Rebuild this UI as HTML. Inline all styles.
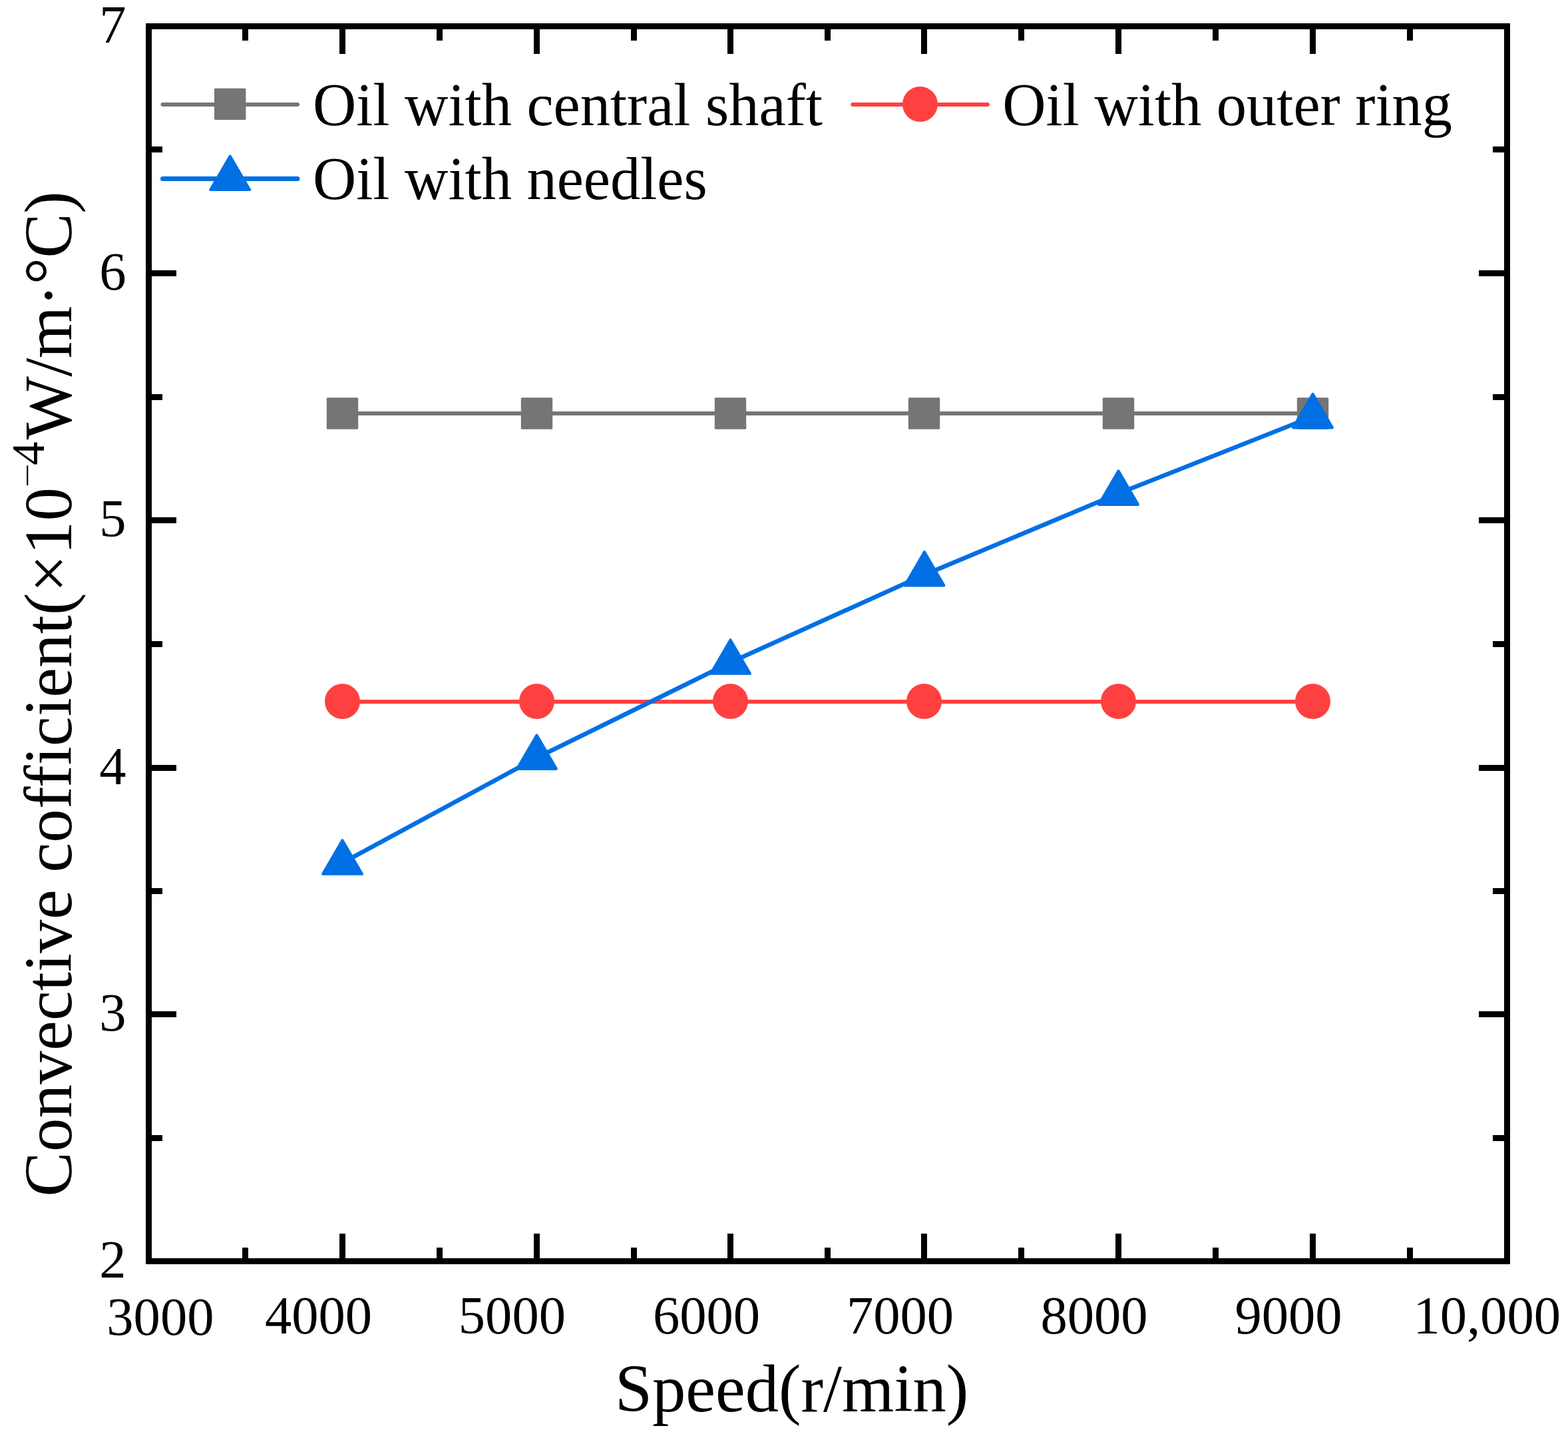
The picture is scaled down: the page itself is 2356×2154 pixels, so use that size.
<!DOCTYPE html>
<html lang="en">
<head>
<meta charset="utf-8">
<title>Convective coefficient vs speed</title>
<style>
html,body{margin:0;padding:0;background:#fff;}
body{width:2356px;height:2154px;overflow:hidden;}
svg{display:block;font-family:"Liberation Serif", "Times New Roman", Times, serif;fill:#000;}
.tk{font-size:80.6px;}
.lg{font-size:90.45px;}
.tt{font-size:100.7px;}
</style>
</head>
<body>
<svg width="2356" height="2154" viewBox="0 0 2356 2154">
<rect x="0" y="0" width="2356" height="2154" fill="#fff"/>
<g id="series-shaft">
<path d="M514.50 621.0L1972.50 621.0" stroke="#757575" stroke-width="6" fill="none"/>
<rect x="490.80" y="597.30" width="47.4" height="47.4" rx="1.5" fill="#757575"/>
<rect x="782.80" y="597.30" width="47.4" height="47.4" rx="1.5" fill="#757575"/>
<rect x="1073.80" y="597.30" width="47.4" height="47.4" rx="1.5" fill="#757575"/>
<rect x="1364.80" y="597.30" width="47.4" height="47.4" rx="1.5" fill="#757575"/>
<rect x="1656.80" y="597.30" width="47.4" height="47.4" rx="1.5" fill="#757575"/>
<rect x="1948.80" y="597.30" width="47.4" height="47.4" rx="1.5" fill="#757575"/>
</g>
<g id="series-ring">
<path d="M514.50 1054.0L1972.50 1054.0" stroke="#ff4040" stroke-width="6" fill="none"/>
<circle cx="514.50" cy="1053.50" r="26.5" fill="#ff4040"/>
<circle cx="806.50" cy="1053.50" r="26.5" fill="#ff4040"/>
<circle cx="1097.50" cy="1053.50" r="26.5" fill="#ff4040"/>
<circle cx="1388.50" cy="1053.50" r="26.5" fill="#ff4040"/>
<circle cx="1680.50" cy="1053.50" r="26.5" fill="#ff4040"/>
<circle cx="1972.50" cy="1053.50" r="26.5" fill="#ff4040"/>
</g>
<g id="series-needles">
<path d="M514.50 1296.1L806.50 1138.3L1097.50 995.1L1388.50 863.6L1680.50 741.3L1972.50 625.8" stroke="#0070e4" stroke-width="6.6" fill="none" stroke-linejoin="round"/>
<path d="M514.50 1262.17L543.95 1312.68L485.05 1312.68Z" fill="#0070e4" stroke="#0070e4" stroke-width="4.0" stroke-linejoin="round"/>
<path d="M806.50 1104.37L835.95 1154.88L777.05 1154.88Z" fill="#0070e4" stroke="#0070e4" stroke-width="4.0" stroke-linejoin="round"/>
<path d="M1097.50 961.17L1126.95 1011.68L1068.05 1011.68Z" fill="#0070e4" stroke="#0070e4" stroke-width="4.0" stroke-linejoin="round"/>
<path d="M1389.00 828.97L1418.45 879.48L1359.55 879.48Z" fill="#0070e4" stroke="#0070e4" stroke-width="4.0" stroke-linejoin="round"/>
<path d="M1680.50 707.37L1709.95 757.88L1651.05 757.88Z" fill="#0070e4" stroke="#0070e4" stroke-width="4.0" stroke-linejoin="round"/>
<path d="M1972.50 591.87L2001.95 642.38L1943.05 642.38Z" fill="#0070e4" stroke="#0070e4" stroke-width="4.0" stroke-linejoin="round"/>
</g>
<g id="axes" fill="#000">
<rect x="223.5" y="39.5" width="2041.0" height="1855.0" fill="none" stroke="#000" stroke-width="9"/>
<rect x="364" y="40" width="9" height="21"/>
<rect x="364" y="1874" width="9" height="21"/>
<rect x="510" y="40" width="9" height="41"/>
<rect x="510" y="1853" width="9" height="42"/>
<rect x="656" y="40" width="9" height="21"/>
<rect x="656" y="1874" width="9" height="21"/>
<rect x="802" y="40" width="9" height="41"/>
<rect x="802" y="1853" width="9" height="42"/>
<rect x="948" y="40" width="9" height="21"/>
<rect x="948" y="1874" width="9" height="21"/>
<rect x="1093" y="40" width="9" height="41"/>
<rect x="1093" y="1853" width="9" height="42"/>
<rect x="1239" y="40" width="9" height="21"/>
<rect x="1239" y="1874" width="9" height="21"/>
<rect x="1384" y="40" width="9" height="41"/>
<rect x="1384" y="1853" width="9" height="42"/>
<rect x="1530" y="40" width="9" height="21"/>
<rect x="1530" y="1874" width="9" height="21"/>
<rect x="1676" y="40" width="9" height="41"/>
<rect x="1676" y="1853" width="9" height="42"/>
<rect x="1822" y="40" width="9" height="21"/>
<rect x="1822" y="1874" width="9" height="21"/>
<rect x="1968" y="40" width="9" height="41"/>
<rect x="1968" y="1853" width="9" height="42"/>
<rect x="2114" y="40" width="9" height="21"/>
<rect x="2114" y="1874" width="9" height="21"/>
<rect x="224" y="220" width="20" height="9"/>
<rect x="2243" y="220" width="22" height="9"/>
<rect x="224" y="406" width="41" height="9"/>
<rect x="2222" y="406" width="43" height="9"/>
<rect x="224" y="592" width="20" height="9"/>
<rect x="2243" y="592" width="22" height="9"/>
<rect x="224" y="777" width="41" height="9"/>
<rect x="2222" y="777" width="43" height="9"/>
<rect x="224" y="963" width="20" height="9"/>
<rect x="2243" y="963" width="22" height="9"/>
<rect x="224" y="1149" width="41" height="9"/>
<rect x="2222" y="1149" width="43" height="9"/>
<rect x="224" y="1334" width="20" height="9"/>
<rect x="2243" y="1334" width="22" height="9"/>
<rect x="224" y="1519" width="41" height="9"/>
<rect x="2222" y="1519" width="43" height="9"/>
<rect x="224" y="1705" width="20" height="9"/>
<rect x="2243" y="1705" width="22" height="9"/>
</g>
<g id="xticks" class="tk" text-anchor="middle">
<text x="240.9" y="2005.4">3000</text>
<text x="478.5" y="2003.3">4000</text>
<text x="769.4" y="2003.3">5000</text>
<text x="1061.5" y="2003.3">6000</text>
<text x="1352.5" y="2003.3">7000</text>
<text x="1644.0" y="2003.3">8000</text>
<text x="1936.0" y="2003.3">9000</text>
<text x="2234.2" y="2003.3">10,000</text>
</g>
<g id="yticks" class="tk" text-anchor="end">
<text x="189.5" y="1918.60">2</text>
<text x="189.5" y="1547.60">3</text>
<text x="189.5" y="1177.60">4</text>
<text x="189.5" y="805.60">5</text>
<text x="189.5" y="434.60">6</text>
<text x="189.5" y="63.60">7</text>
</g>
<text id="xtitle" class="tt" x="924" y="2120">Speed(r/min)</text>
<text id="ytitle" class="tt" transform="translate(106.8 1797.4) rotate(-90)"><tspan x="0" letter-spacing="0.28">Convective cofficient(×10</tspan><tspan x="1064.6" dy="-43.8" font-size="66.2" stroke="#fff" stroke-width="1">−</tspan><tspan x="1098.6" dy="3.2" font-size="70.5">4</tspan><tspan x="1137.05" dy="40.6" letter-spacing="-0.45">W/m·°C)</tspan></text>
<g id="legend" class="lg">
<path d="M244.5 157L447 157" stroke="#757575" stroke-width="6" stroke-linecap="round" fill="none"/>
<rect x="322.00" y="132.70" width="47.4" height="47.4" rx="1.5" fill="#757575"/>
<text x="469.9" y="187.8">Oil with central shaft</text>
<path d="M1281.2 157L1483.8 157" stroke="#ff4040" stroke-width="6" stroke-linecap="round" fill="none"/>
<circle cx="1382.50" cy="156.50" r="26.5" fill="#ff4040"/>
<text x="1506.3" y="187.8">Oil with outer ring</text>
<path d="M244.5 268.5L447 268.5" stroke="#0070e4" stroke-width="7" stroke-linecap="round" fill="none"/>
<path d="M345.70 234.57L375.15 285.08L316.25 285.08Z" fill="#0070e4" stroke="#0070e4" stroke-width="4.0" stroke-linejoin="round"/>
<text x="469.9" y="299.4">Oil with needles</text>
</g>
</svg>
</body>
</html>
